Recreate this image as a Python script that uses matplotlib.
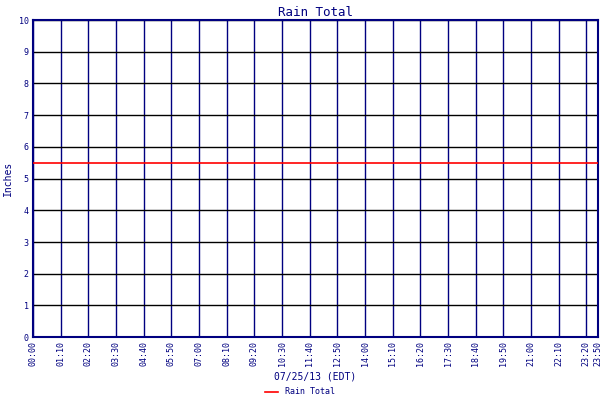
import matplotlib
matplotlib.use("Agg")
import matplotlib.pyplot as plt

NAVY = "#000080"

# x positions in minutes since midnight
tick_minutes = list(range(0, 1430, 70)) + [1430]
tick_labels = [f"{m // 60:02d}:{m % 60:02d}" for m in tick_minutes]
series_x = [0, 1430]
series_y = [5.5, 5.5]
y_ticks = list(range(0, 11))

fig = plt.figure(figsize=(6, 4), dpi=100)
ax = fig.add_axes([0.055, 0.157, 0.942, 0.793])

ax.plot(series_x, series_y, color="red", lw=1.2, label="Rain Total", zorder=3)

ax.set_xlim(0, 1430)
ax.set_ylim(0, 10)
ax.set_xticks(tick_minutes)
ax.set_xticklabels(tick_labels, rotation=90, fontsize=6, color=NAVY, family="monospace")
ax.set_yticks(y_ticks)
ax.set_yticklabels([str(v) for v in y_ticks], fontsize=6, color=NAVY, family="monospace")
ax.tick_params(length=0, pad=3)
for v in tick_minutes:
    ax.axvline(v, color=NAVY, lw=1, zorder=1)
for v in y_ticks:
    ax.axhline(v, color="black", lw=1, zorder=1)
for s in ax.spines.values():
    s.set_color(NAVY)
    s.set_linewidth(1.5)

ax.set_title("Rain Total", fontsize=9, color=NAVY, family="monospace", pad=3)
ax.set_ylabel("Inches", fontsize=7, color=NAVY, family="monospace", labelpad=4)
ax.set_xlabel("07/25/13 (EDT)", fontsize=7, color=NAVY, family="monospace", labelpad=4)

fig.legend(loc="lower center", bbox_to_anchor=(0.5, -0.01), frameon=False,
           prop={"size": 6, "family": "monospace"}, labelcolor=NAVY,
           handlelength=1.5)

fig.savefig("out.png", dpi=100)
